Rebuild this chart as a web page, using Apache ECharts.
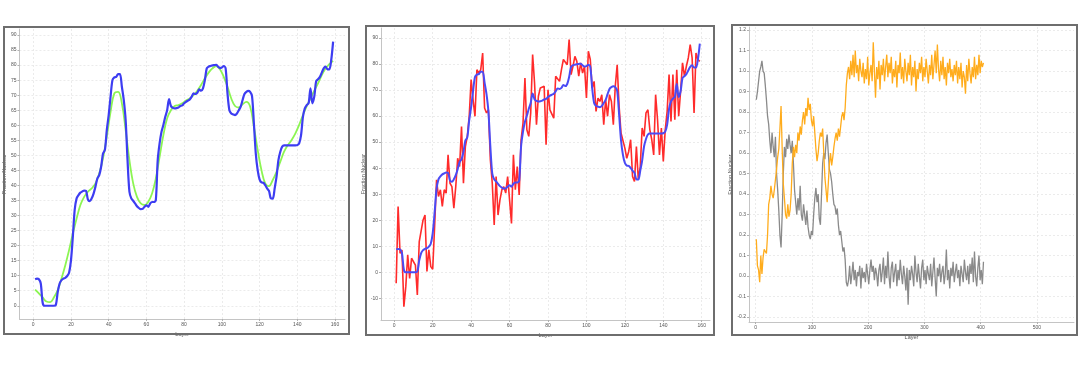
<!DOCTYPE html>
<html>
<head>
<meta charset="utf-8">
<script src="https://cdn.jsdelivr.net/npm/echarts@6/dist/echarts.min.js"></script>
<style>
html,body{margin:0;padding:0;background:#fff;}
#chart{width:1080px;height:366px;}
</style>
</head>
<body>
<div id="chart"></div>
<script>
// ---------- tick labels ----------
const xTicksLayer = [0, 20, 40, 60, 80, 100, 120, 140, 160];
const xTicksLayer3 = [0, 100, 200, 300, 400, 500];
const yTicks1 = [0,5,10,15,20,25,30,35,40,45,50,55,60,65,70,75,80,85,90];
const yTicks2 = [-10,0,10,20,30,40,50,60,70,80,90];
const yTicks3 = [-0.2,-0.1,0,0.1,0.2,0.3,0.4,0.5,0.6,0.7,0.8,0.9,1.0,1.1,1.2];
const xAxisName = 'Layer';
const yAxisName = 'Fraction Nuclear';

// ---------- panel 1 & 2 : smoothed (blue), layers 1..159 ----------
const blueFirstLayer = 1;
const blueValues = [
 8.8, 9.0, 8.8, 7.4, 1.0, 0, 0, 0, 0, 0,
 0, 0.3, 4.6, 7.4, 8.5, 9.0, 9.3, 9.9, 11, 15,
 23, 32, 35.7, 36.8, 37.6, 38, 38.3, 38.2, 35.3, 34.8,
 35.7, 37.3, 39.6, 42.3, 43.4, 46.2, 50.6, 51.8, 58.4, 63.4,
 69.5, 75, 75.9, 76.1, 77, 77, 72.8, 68.4, 61.7, 48.4,
 37.9, 35.7, 34.9, 34, 33.1, 32.5, 32.1, 32.2, 32.9, 33.4,
 32.9, 34, 34.5, 34.5, 35.1, 48.4, 54, 57.8, 60.1, 62.8,
 65, 68.7, 66.4, 65.8, 65.6, 65.7, 65.9, 66.4, 66.6, 67.3,
 67.8, 68.2, 68.6, 69.5, 70.6, 70.4, 70.8, 71.9, 71.5, 72.3,
 75, 78.9, 79.5, 79.7, 79.9, 80, 80.1, 79.5, 79, 79.2,
 79.7, 78.9, 70.6, 65, 63.9, 63.6, 63.4, 63.9, 65, 66.2,
 68.4, 70.4, 71.1, 71.4, 71.1, 69.7, 60.6, 50.6, 45.1, 42,
 41, 40.9, 40.1, 39, 38.2, 35.7, 35.6, 39, 42.9, 48.4,
 51.2, 52.9, 53.3, 53.3, 53.3, 53.3, 53.3, 53.3, 53.3, 53.4,
 54, 56.7, 62.8, 65.6, 66.7, 67.3, 72.3, 67.3, 69.5, 74.6,
 75.3, 76.1, 77.5, 78.9, 79.5, 78.6, 78.6, 81.7, 87.8
];

// ---------- panel 1 : fitted (green), odd layers 1..159 ----------
const greenFirstLayer = 1;
const greenStep = 2;
const greenValues = [
 5.4, 4.1, 2.8, 1.4, 1.2, 2.8, 5.2, 9.1, 13.5, 18.5,
 24, 29, 33.5, 36.2, 37.9, 39, 40.7, 44, 49, 56.2,
 64.5, 70.6, 71.1, 67.3, 58.4, 48.4, 40.7, 36.2, 34, 33.5,
 34.6, 37.3, 42.3, 49.5, 56.7, 62.3, 65, 66.4, 66.7, 67.3,
 68.2, 68.9, 70, 71.5, 73.4, 75.6, 77.5, 78.9, 79.7, 78.6,
 76.1, 72.8, 68.9, 66.4, 65.9, 67, 67.8, 66.2, 59.5, 51.8,
 45.1, 40.7, 39.8, 41.8, 44.5, 47.9, 51.2, 53.4, 55.1, 57.3,
 60.1, 63.4, 66.4, 68.9, 71.5, 73.9, 76.7, 78.9, 80.3, 81.4
];

// ---------- panel 2 : raw (red), layers 1..159 ----------
const redFirstLayer = 1;
const redValues = [
 -4.2, 25.3, 7.3, 8.6, -13.2, -5.5, 6.7, -2.3, 5.4, 4.7,
 2.8, -8.7, 11.8, 11.2, 20.1, 22, 0.3, 8.6, 2.2, 1.2,
 17.6, 35.5, 29.1, 31.7, 25.3, 31.7, 30.4, 45.1, 34.2, 32.9,
 24.6, 32.9, 43.8, 40.6, 56, 34.2, 48.3, 52.2, 59.9, 74,
 66.3, 59.9, 77.8, 76.5, 77.8, 84.2, 63.1, 61.2, 62.4, 43.2,
 34.2, 18.2, 36.8, 22, 27.8, 31.7, 32.9, 30.4, 36.8, 37,
 18.8, 45.1, 31.7, 40.6, 29.7, 50.9, 57.3, 74.6, 54.7, 52.2,
 61.2, 83.6, 72.7, 56.7, 67.6, 70.8, 71.4, 71.4, 49, 70.1,
 62.4, 61.8, 59.2, 75.3, 74.6, 73.3, 77.8, 81.7, 81, 79.7,
 89.4, 75.9, 79.1, 82.9, 81, 75.3, 80.4, 76.5, 79.1, 66.9,
 84.9, 81.7, 70.8, 73.3, 61.8, 66.9, 65.6, 68.2, 56.7, 66.3,
 59.9, 68.2, 65.6, 56.7, 71.4, 79.7, 63.7, 53.5, 52.8, 47.7,
 43.8, 46.4, 50.9, 36.8, 34.9, 48.3, 35.5, 40.6, 55.4, 52.2,
 61.2, 62.4, 54.7, 50.9, 45.1, 68.2, 58.6, 45.1, 55.4, 42.6,
 54.7, 61.8, 75.9, 57.9, 75.9, 58.6, 77.8, 59.9, 69.5, 80.4,
 75.3, 79.1, 82.3, 87.4, 82.3, 61.2, 84.2, 81.7, 81
];

// ---------- panel 3 : layers 1..405, every 2nd layer ----------
const p3FirstLayer = 1;
const p3Step = 2;
const grayValues = [
 0.86, 0.9, 0.95, 1.0, 1.02, 1.05, 1.0, 0.99, 0.93, 0.86,
 0.78, 0.74, 0.66, 0.6, 0.7, 0.63, 0.58, 0.68, 0.5, 0.42,
 0.32, 0.2, 0.14, 0.3, 0.5, 0.63, 0.58, 0.67, 0.62, 0.69,
 0.64, 0.6, 0.66, 0.55, 0.42, 0.36, 0.3, 0.38, 0.32, 0.44,
 0.3, 0.27, 0.35, 0.3, 0.25, 0.32, 0.24, 0.2, 0.18, 0.22,
 0.2, 0.3, 0.38, 0.43, 0.36, 0.4, 0.28, 0.25, 0.4, 0.55,
 0.6, 0.57, 0.65, 0.69, 0.6, 0.52, 0.5, 0.46, 0.4, 0.35,
 0.34, 0.3, 0.33, 0.25, 0.2, 0.22, 0.17, 0.12, 0.14, 0.08,
 -0.03, -0.05,
 -0.02, 0.05, -0.04, 0.01, 0.07, -0.02, 0.03, -0.05, 0.02, 0.0,
 0.05, -0.06, 0.04, -0.01, 0.02, -0.03, 0.06, 0.01, -0.04, 0.03,
 0.08, 0.02, 0.05, -0.02, 0.04, 0.01, -0.05, 0.03, 0.06, -0.03,
 0.02, 0.09, -0.04, 0.05, -0.01, 0.12, 0.0, -0.06, 0.04, 0.07,
 -0.03, 0.02, 0.06, -0.05, 0.03, -0.02, 0.08, 0.01, -0.04, 0.05,
 0.0, -0.07, 0.04, -0.14, 0.03, -0.02, 0.05, 0.01, -0.05, 0.1,
 0.02, -0.03, 0.06, 0.0, -0.06, 0.04, 0.08, -0.02, 0.03, -0.04,
 0.05, 0.01, -0.02, 0.06, -0.05, 0.02, 0.09, -0.01, -0.1, 0.04,
 0.0, 0.06, -0.03, 0.02, 0.05, -0.04, 0.01, 0.13, -0.02, 0.03,
 -0.06, 0.04, 0.0, 0.07, -0.03, 0.02, 0.06, -0.01, 0.03, -0.05,
 0.05, 0.01, -0.03, 0.08, 0.02, -0.02, 0.05, -0.04, 0.06, 0.01,
 0.09, -0.03, 0.12, 0.0, -0.05, 0.04, 0.1, -0.02, 0.03, -0.04,
 0.07
];
const orangeValues = [
 0.18, 0.05, 0.03, -0.03, 0.1, 0.01, 0.09, 0.13, 0.12, 0.11,
 0.2, 0.35, 0.38, 0.44, 0.4, 0.38, 0.42, 0.47, 0.52, 0.58,
 0.62, 0.72, 0.83, 0.62, 0.45, 0.38, 0.3, 0.28, 0.35, 0.29,
 0.32, 0.4, 0.55, 0.63, 0.58, 0.64, 0.6, 0.7, 0.66, 0.73,
 0.69, 0.76, 0.8, 0.74, 0.82, 0.78, 0.87, 0.81, 0.84, 0.76,
 0.73, 0.78, 0.7, 0.62, 0.56, 0.6, 0.66, 0.7, 0.68, 0.72,
 0.6, 0.48, 0.42, 0.36, 0.45, 0.55, 0.6, 0.54, 0.58, 0.63,
 0.67, 0.7, 0.66, 0.72, 0.68, 0.73, 0.78, 0.8, 0.76, 0.82,
 0.93, 0.99,
 1.02, 0.96, 1.05, 0.98, 1.08, 0.97, 1.1, 0.99, 1.03, 0.95,
 1.06, 1.0, 0.97, 1.04, 0.94, 1.01, 0.96, 1.07, 0.93, 0.99,
 1.03, 0.95, 1.14, 1.0, 0.87, 1.02, 0.96, 1.05, 0.91, 1.03,
 0.98, 1.06, 0.95, 1.02, 1.08, 0.97, 1.04, 0.99, 1.07, 0.94,
 1.01, 0.97, 1.05, 0.92, 1.03, 0.99, 1.09, 0.96, 1.02, 0.94,
 1.06, 1.0, 0.95, 1.04, 0.98, 1.08, 0.93, 1.02, 0.97, 1.05,
 0.9, 1.01, 0.96, 1.04, 0.99, 1.07, 0.95, 1.02, 0.97, 1.06,
 1.0, 0.94, 1.03, 0.98, 1.08, 0.96, 1.03, 1.1, 0.99, 1.13,
 1.01, 0.95, 1.05, 0.98, 1.07, 0.96, 1.02, 0.93, 1.04, 0.99,
 1.06, 0.97, 1.01, 0.95, 1.03, 0.98, 1.05, 0.94, 1.02, 0.96,
 1.04, 0.92, 1.0, 0.97, 0.89, 1.03, 0.95, 1.06, 0.99, 0.94,
 1.02, 0.97, 1.07, 0.96, 1.03, 0.98, 1.08, 0.99, 1.05, 1.02,
 1.04
];

// ---------- build ----------
function pairs(first, step, vals) { return vals.map((v, i) => [first + i * step, v]); }

const labelStyle = { fontSize: 5, color: '#555', fontFamily: 'Liberation Sans, Arial, sans-serif' };
const nameStyle = { fontSize: 5.5, color: '#555', fontFamily: 'Liberation Sans, Arial, sans-serif' };
const splitStyle = { show: true, lineStyle: { color: '#e6e6e6', width: 0.8, type: [2, 2] } };

function xAxisCfg(gi, min, max, ticks) {
  return {
    type: 'value', gridIndex: gi, min: min, max: max,
    axisLine: { show: true, onZero: false, lineStyle: { color: '#c4c4c4', width: 1 } },
    axisTick: { show: true, length: 2, customValues: ticks, lineStyle: { color: '#b0b0b0' } },
    axisLabel: Object.assign({ customValues: ticks, margin: 3 }, labelStyle),
    splitLine: splitStyle,
    name: xAxisName, nameLocation: 'middle', nameGap: 11, nameTextStyle: nameStyle
  };
}
function yAxisCfg(gi, min, max, ticks, fmt, gap) {
  return {
    type: 'value', gridIndex: gi, min: min, max: max,
    axisLine: { show: true, onZero: false, lineStyle: { color: '#c4c4c4', width: 1 } },
    axisTick: { show: true, length: 2, customValues: ticks, lineStyle: { color: '#b0b0b0' } },
    axisLabel: Object.assign({ customValues: ticks, margin: 3, formatter: fmt }, labelStyle),
    splitLine: splitStyle,
    name: yAxisName, nameLocation: 'middle', nameGap: gap, nameRotate: 90, nameTextStyle: nameStyle
  };
}

const frames = [
  { x: 4, y: 27, w: 345, h: 307 },
  { x: 366, y: 26, w: 348, h: 309 },
  { x: 732, y: 25, w: 345, h: 310 }
];

const option = {
  backgroundColor: '#ffffff',
  animation: false,
  grid: [
    { left: 16, top: 29, width: 329, height: 290, containLabel: false },
    { left: 381, top: 28, width: 329, height: 292, containLabel: false },
    { left: 749, top: 27, width: 325, height: 295, containLabel: false }
  ],
  xAxis: [
    xAxisCfg(0, -7.3, 165.3, xTicksLayer),
    xAxisCfg(1, -6.9, 164.3, xTicksLayer),
    xAxisCfg(2, -12, 566, xTicksLayer3)
  ],
  yAxis: [
    yAxisCfg(0, -4.4, 92, yTicks1, v => String(v), 7),
    yAxisCfg(1, -18.3, 93.8, yTicks2, v => String(v), 10),
    yAxisCfg(2, -0.224, 1.215, yTicks3, v => Number(v).toFixed(1), 11)
  ],
  graphic: frames.map(f => ({
    type: 'rect', silent: true, z: 100,
    shape: { x: f.x, y: f.y, width: f.w, height: f.h },
    style: { fill: null, stroke: '#6e6e6e', lineWidth: 2 }
  })),
  series: [
    { type: 'line', xAxisIndex: 0, yAxisIndex: 0, showSymbol: false, smooth: 0.4,
      data: pairs(greenFirstLayer, greenStep, greenValues),
      lineStyle: { color: '#8cf552', width: 1.8 }, itemStyle: { color: '#8cf552' } },
    { type: 'line', xAxisIndex: 0, yAxisIndex: 0, showSymbol: false, smooth: 0.3,
      data: pairs(blueFirstLayer, 1, blueValues),
      lineStyle: { color: '#3d3df2', width: 2.2 }, itemStyle: { color: '#3d3df2' } },
    { type: 'line', xAxisIndex: 1, yAxisIndex: 1, showSymbol: false,
      data: pairs(redFirstLayer, 1, redValues),
      lineStyle: { color: '#ff2b2b', width: 1.6 }, itemStyle: { color: '#ff2b2b' } },
    { type: 'line', xAxisIndex: 1, yAxisIndex: 1, showSymbol: false, smooth: 0.3,
      data: pairs(blueFirstLayer, 1, blueValues),
      lineStyle: { color: '#4a4af5', width: 2 }, itemStyle: { color: '#4a4af5' } },
    { type: 'line', xAxisIndex: 2, yAxisIndex: 2, showSymbol: false,
      data: pairs(p3FirstLayer, p3Step, grayValues),
      lineStyle: { color: '#8a8a8a', width: 1.3 }, itemStyle: { color: '#8a8a8a' } },
    { type: 'line', xAxisIndex: 2, yAxisIndex: 2, showSymbol: false,
      data: pairs(p3FirstLayer, p3Step, orangeValues),
      lineStyle: { color: '#ffac1c', width: 1.3 }, itemStyle: { color: '#ffac1c' } }
  ]
};

const chart = echarts.init(document.getElementById('chart'), null, { renderer: 'canvas' });
chart.setOption(option);
</script>
</body>
</html>
